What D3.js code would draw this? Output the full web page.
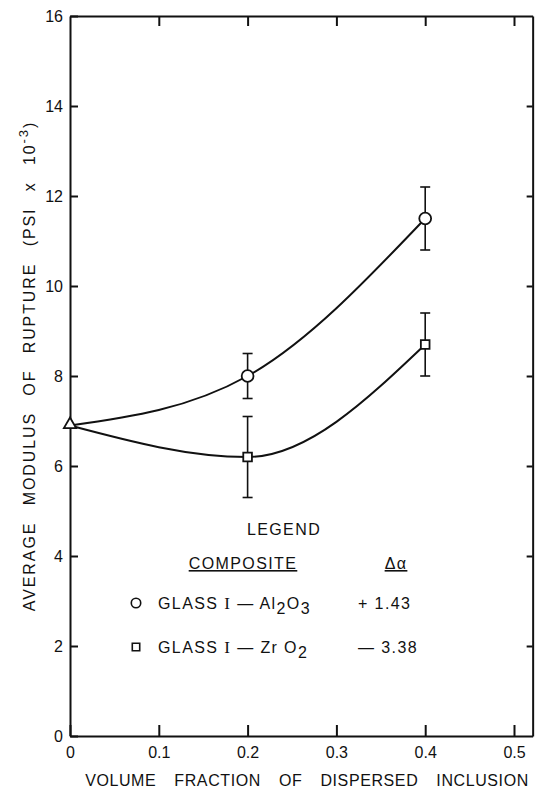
<!DOCTYPE html>
<html>
<head>
<meta charset="utf-8">
<script src="https://cdn.jsdelivr.net/npm/d3@7/dist/d3.min.js"></script>
<style>
  body { margin: 0; background: #fff; }
  svg text { font-family: "Liberation Sans", Arial, sans-serif; fill: #111; }
</style>
</head>
<body>
<svg id="chart" width="535" height="788"></svg>
<script>
// values
var xTicks = [0, 0.1, 0.2, 0.3, 0.4, 0.5];
var xTickLabels = ["0", "0.1", "0.2", "0.3", "0.4", "0.5"];
var yTicks = [0, 2, 4, 6, 8, 10, 12, 14, 16];
var yTickLabels = ["0", "2", "4", "6", "8", "10", "12", "14", "16"];

var fractions = [0, 0.2, 0.4];
var aluminaMean = [6.9, 8.0, 11.5];
var aluminaLow = [null, 7.5, 10.8];
var aluminaHigh = [null, 8.5, 12.2];
var zirconiaMean = [6.9, 6.2, 8.7];
var zirconiaLow = [null, 5.3, 8.0];
var zirconiaHigh = [null, 7.1, 9.4];
var baseGlass = [6.9];   // glass I alone, triangle at zero fraction

var legendNames = ["Al", "Zr"];
var legendDeltas = ["+ 1.43", "\u2014 3.38"];

var svg = d3.select("#chart");
var x = d3.scaleLinear().domain([0, 0.5]).range([70, 514]);
var y = d3.scaleLinear().domain([0, 16]).range([736, 16]);
var xMax = 0.521;

function styleAxis(g) {
    g.select(".domain").attr("stroke", "#111").attr("stroke-width", 2);
    g.selectAll(".tick line").attr("stroke", "#111").attr("stroke-width", 2);
    g.selectAll(".tick text").style("font-size", "16px").attr("fill", "#111");
}

// frame: left/bottom with labels, top/right ticks only
svg.append("g")
    .attr("transform", "translate(" + x(0) + ",0)")
    .call(d3.axisLeft(y).tickValues(yTicks).tickSize(-8).tickSizeOuter(0).tickPadding(7)
        .tickFormat(function(d, i) { return yTickLabels[i]; }))
    .call(styleAxis);

svg.append("g")
    .attr("transform", "translate(0," + y(0) + ")")
    .call(d3.axisBottom(x.copy().domain([0, xMax]).range([x(0), x(xMax)]))
        .tickValues(xTicks).tickSize(-11).tickSizeOuter(0).tickPadding(11)
        .tickFormat(function(d, i) { return xTickLabels[i]; }))
    .call(styleAxis);

svg.append("g")
    .attr("transform", "translate(0," + y(16) + ")")
    .call(d3.axisTop(x.copy().domain([0, xMax]).range([x(0), x(xMax)]))
        .tickValues(xTicks.slice(1)).tickSize(-10).tickSizeOuter(0).tickFormat(""))
    .call(styleAxis);

svg.append("g")
    .attr("transform", "translate(" + x(xMax) + ",0)")
    .call(d3.axisRight(y).tickValues(yTicks.slice(1, -1)).tickSize(-6).tickSizeOuter(0).tickFormat(""))
    .call(styleAxis);

// axis titles
svg.append("text")
    .attr("x", 307).attr("y", 786)
    .attr("text-anchor", "middle")
    .style("font-size", "16px")
    .style("letter-spacing", "0.6px")
    .style("word-spacing", "13px")
    .text("VOLUME FRACTION OF DISPERSED INCLUSION");

var yTitle = svg.append("text")
    .attr("transform", "translate(35,366) rotate(-90)")
    .attr("text-anchor", "middle")
    .style("font-size", "16px")
    .style("letter-spacing", "1.9px")
    .style("word-spacing", "10px");
yTitle.append("tspan").text("AVERAGE MODULUS OF RUPTURE (PSI x 10");
yTitle.append("tspan").attr("dy", -7).style("font-size", "13px").text("-3");
yTitle.append("tspan").attr("dy", 7).text(")");

// curves and error bars
function series(means, lows, highs, marker) {
    var pts = fractions.map(function(f, i) {
        return { f: f, m: means[i], lo: lows[i], hi: highs[i] };
    });

    var line = d3.line()
        .x(function(d) { return x(d.f); })
        .y(function(d) { return y(d.m); })
        .curve(d3.curveMonotoneX);

    svg.append("path")
        .datum(pts)
        .attr("d", line)
        .attr("fill", "none")
        .attr("stroke", "#111")
        .attr("stroke-width", 2);

    var bars = svg.append("g").selectAll("g")
        .data(pts.filter(function(d) { return d.lo !== null; }))
        .join("g")
        .attr("stroke", "#111")
        .attr("stroke-width", 1.6);
    bars.append("line")
        .attr("x1", function(d) { return x(d.f); }).attr("x2", function(d) { return x(d.f); })
        .attr("y1", function(d) { return y(d.lo); }).attr("y2", function(d) { return y(d.hi); });
    bars.append("line")
        .attr("x1", function(d) { return x(d.f) - 5; }).attr("x2", function(d) { return x(d.f) + 5; })
        .attr("y1", function(d) { return y(d.lo); }).attr("y2", function(d) { return y(d.lo); });
    bars.append("line")
        .attr("x1", function(d) { return x(d.f) - 5; }).attr("x2", function(d) { return x(d.f) + 5; })
        .attr("y1", function(d) { return y(d.hi); }).attr("y2", function(d) { return y(d.hi); });

    svg.append("g").selectAll("path")
        .data(pts.filter(function(d) { return d.f > 0; }))
        .join("path")
        .attr("transform", function(d) { return "translate(" + x(d.f) + "," + y(d.m) + ")"; })
        .attr("d", d3.symbol().type(marker).size(marker === d3.symbolCircle ? 110 : 75))
        .attr("fill", "#fff")
        .attr("stroke", "#111")
        .attr("stroke-width", 1.8);
}

series(aluminaMean, aluminaLow, aluminaHigh, d3.symbolCircle);
series(zirconiaMean, zirconiaLow, zirconiaHigh, d3.symbolSquare);

svg.append("g").selectAll("path")
    .data(baseGlass)
    .join("path")
    .attr("transform", function(d) { return "translate(" + x(0) + "," + (y(d) - 1) + ")"; })
    .attr("d", d3.symbol().type(d3.symbolTriangle).size(65))
    .attr("fill", "#fff")
    .attr("stroke", "#111")
    .attr("stroke-width", 1.8);

// legend
var legend = svg.append("g").style("font-size", "16px").style("letter-spacing", "1.4px");
legend.append("text").attr("x", 284).attr("y", 535).attr("text-anchor", "middle").text("LEGEND");
legend.append("text").attr("x", 243).attr("y", 569).attr("text-anchor", "middle")
    .style("text-decoration", "underline").text("COMPOSITE");
legend.append("text").attr("x", 396).attr("y", 569).attr("text-anchor", "middle")
    .style("text-decoration", "underline").text("\u0394\u03b1");

var rowY = [609, 653];
var rows = legend.selectAll("g.row")
    .data(legendNames)
    .join("g")
    .attr("class", "row")
    .attr("transform", function(d, i) { return "translate(0," + rowY[i] + ")"; });

rows.append("path")
    .attr("transform", "translate(136,-6)")
    .attr("d", function(d, i) { return d3.symbol().type(i === 0 ? d3.symbolCircle : d3.symbolSquare).size(i === 0 ? 70 : 55)(); })
    .attr("fill", "#fff")
    .attr("stroke", "#111")
    .attr("stroke-width", 1.6);

rows.each(function(d, i) {
    var t = d3.select(this).append("text").attr("x", 158);
    t.append("tspan").text("GLASS ");
    t.append("tspan").style("font-family", "'Liberation Serif', serif").style("font-size", "17px").text("I");
    t.append("tspan").text(" \u2014 ");
    if (d === "Al") {
        t.append("tspan").text("Al");
        t.append("tspan").attr("dy", 5).text("2");
        t.append("tspan").attr("dy", -5).text("O");
        t.append("tspan").attr("dy", 5).text("3");
    } else {
        t.append("tspan").text("Zr O");
        t.append("tspan").attr("dy", 5).text("2");
    }
    d3.select(this).append("text").attr("x", 358).text(legendDeltas[i]);
});
</script>
</body>
</html>
